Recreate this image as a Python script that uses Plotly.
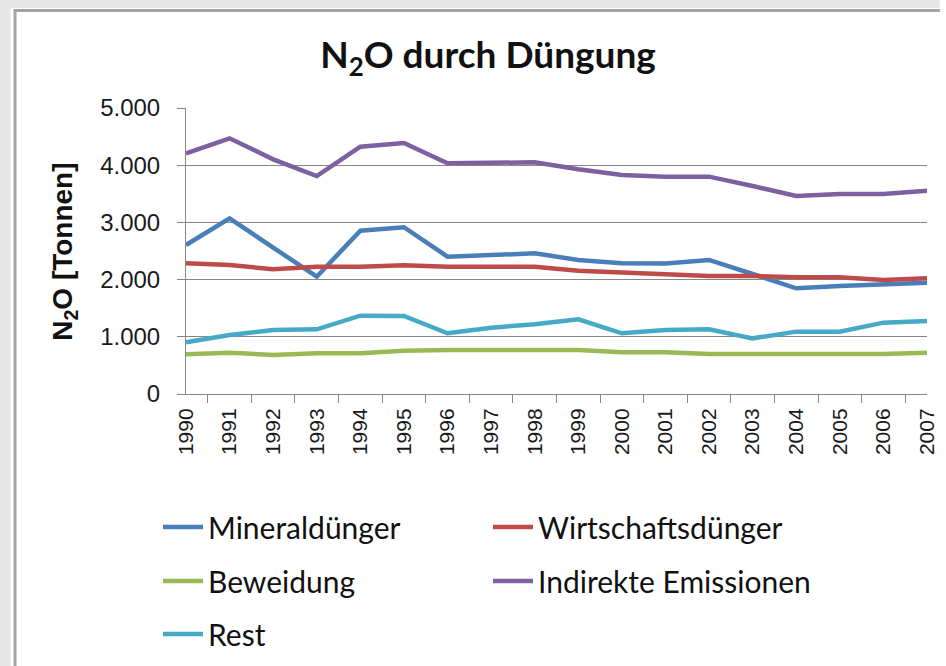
import plotly.graph_objects as go

years = [str(y) for y in range(1990, 2008)]
mineral = [2605, 3071, 2560, 2051, 2855, 2915, 2400, 2430, 2459, 2343, 2285, 2280, 2343, 2098, 1848, 1888, 1917, 1946]
wirtschaft = [2285, 2255, 2180, 2226, 2226, 2250, 2226, 2226, 2226, 2156, 2121, 2090, 2063, 2063, 2040, 2040, 1993, 2022]
beweidung = [694, 723, 682, 711, 711, 758, 769, 769, 769, 769, 728, 728, 699, 699, 699, 699, 699, 723]
indirekt = [4208, 4470, 4103, 3811, 4323, 4388, 4033, 4044, 4050, 3928, 3829, 3800, 3800, 3636, 3462, 3497, 3497, 3555]
rest = [903, 1031, 1119, 1131, 1369, 1364, 1061, 1160, 1218, 1305, 1061, 1119, 1131, 973, 1090, 1090, 1247, 1276]

series = [
    ("Mineraldünger", mineral, "#4A7EBB", "legend"),
    ("Wirtschaftsdünger", wirtschaft, "#BE4B48", "legend"),
    ("Beweidung", beweidung, "#98B954", "legend2"),
    ("Indirekte Emissionen", indirekt, "#7D60A0", "legend2"),
    ("Rest", rest, "#46AAC5", "legend3"),
]

W, H = 946, 666
L, R, T, B = 186, 938, 108, 394

fig = go.Figure()
for name, vals, col, lg in series:
    fig.add_trace(go.Scatter(x=years, y=vals, name=name, mode="lines",
                             line=dict(color=col, width=4.5), legend=lg,
                             hoverinfo="skip"))

def px(x):
    return (x - L) / (R - L)

def py(y):
    return (B - y) / (B - T)

GRAY = "#e6e6e6"
shapes = [
    dict(type="rect", xref="paper", yref="paper", x0=px(-5), x1=px(W + 5), y0=py(8), y1=py(-5),
         fillcolor=GRAY, line=dict(width=0), layer="below"),
    dict(type="rect", xref="paper", yref="paper", x0=px(-5), x1=px(8), y0=py(H + 5), y1=py(-5),
         fillcolor=GRAY, line=dict(width=0), layer="below"),
    dict(type="line", xref="paper", yref="paper", x0=px(12.5), x1=px(12.5), y0=py(H + 5), y1=py(10.5),
         line=dict(color="#a3a3a3", width=3), layer="below"),
    dict(type="line", xref="paper", yref="paper", x0=px(11), x1=px(W + 5), y0=py(10.5), y1=py(10.5),
         line=dict(color="#a3a3a3", width=3), layer="below"),
]

legend_font = dict(family="Lato", size=30, color="#111111")
common_leg = dict(orientation="h", xref="container", yref="container", xanchor="left",
                  yanchor="middle", font=legend_font, bgcolor="rgba(0,0,0,0)",
                  itemwidth=40, entrywidth=275, entrywidthmode="pixels",
                  itemclick=False, itemdoubleclick=False)

fig.update_layout(
    width=W, height=H,
    margin=dict(l=L, r=W - R, t=T, b=H - B),
    paper_bgcolor="white",
    plot_bgcolor="white",
    separators=",.",
    showlegend=True,
    title=dict(text="N<sub>2</sub>O durch Düngung", xref="container", yref="container",
               x=488 / W, xanchor="center", y=1 - 55 / H, yanchor="middle",
               font=dict(family="Lato", size=37, color="#111111", weight="bold")),
    xaxis=dict(type="category", tickson="boundaries", ticks="outside", ticklen=8,
               tickcolor="#878787", showline=True, linecolor="#878787", linewidth=1,
               showgrid=False, tickangle=-90, ticklabelstandoff=5,
               tickfont=dict(family="Liberation Sans", size=21, color="#1a1a1a")),
    yaxis=dict(range=[0, 5000], dtick=1000, tickformat=",d", ticks="outside", ticklen=8,
               tickcolor="#878787", showline=True, linecolor="#878787", linewidth=1,
               showgrid=True, gridcolor="#878787", gridwidth=1, zeroline=False,
               ticklabelstandoff=12,
               tickfont=dict(family="Liberation Sans", size=24, color="#1a1a1a")),
    legend=dict(x=158 / W, y=1 - 527 / H, **common_leg),
    legend2=dict(x=158 / W, y=1 - 581 / H, **common_leg),
    legend3=dict(x=158 / W, y=1 - 634 / H, **common_leg),
    shapes=shapes,
    annotations=[dict(text="<b>N<sub>2</sub>O [Tonnen]</b>", textangle=-90, xref="paper", yref="paper",
                      x=px(62), y=py(252), xanchor="center", yanchor="middle", showarrow=False,
                      font=dict(family="Liberation Sans", size=28, color="#111111"))],
)

css = ("html,body{margin:0!important;padding:0!important;overflow:hidden!important;"
       "scrollbar-width:none!important;}"
       "::-webkit-scrollbar{display:none!important;width:0!important;height:0!important;}")
fig.write_html("out.html", config={"displayModeBar": False},
               post_script="var s=document.createElement('style');s.textContent=%r;"
                           "document.head.appendChild(s);" % css)
